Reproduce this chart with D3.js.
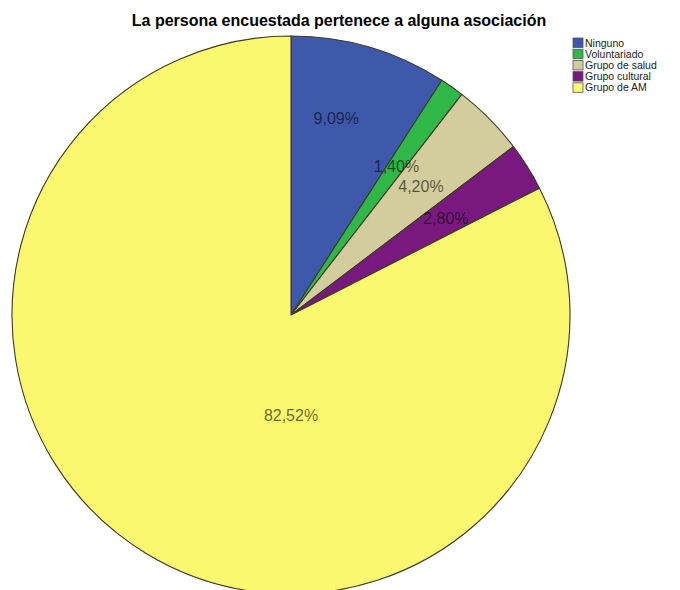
<!DOCTYPE html>
<html>
<head>
<meta charset="utf-8">
<script src="https://cdn.jsdelivr.net/npm/d3@7"></script>
<style>
  html, body { margin: 0; padding: 0; background: #fff; }
  svg { display: block; }
</style>
</head>
<body>
<svg id="chart" width="680" height="590"></svg>
<script>
// Association membership of respondents (percent)
const categories = ["Ninguno", "Voluntariado", "Grupo de salud", "Grupo cultural", "Grupo de AM"];
const values = [9.09, 1.40, 4.20, 2.80, 82.52];
const labels = ["9,09%", "1,40%", "4,20%", "2,80%", "82,52%"];
const colors = ["#3e58ac", "#2fb848", "#d3cc9c", "#79197f", "#fbf76e"];
const title = "La persona encuestada pertenece a alguna asociación";

const svg = d3.select("#chart");
const W = 680, H = 590;
const cx = 291, cy = 315, R = 279;

svg.append("rect").attr("width", W).attr("height", H).attr("fill", "#fff");

const pie = d3.pie().sort(null).value(d => d.v);
const data = categories.map((c, i) => ({ c, v: values[i], label: labels[i], color: colors[i] }));
const arcs = pie(data);
const arc = d3.arc().innerRadius(0).outerRadius(R);

const g = svg.append("g").attr("transform", `translate(${cx},${cy})`);

g.selectAll("path.slice")
  .data(arcs)
  .join("path")
  .attr("class", "slice")
  .attr("d", arc)
  .attr("fill", d => d.data.color)
  .attr("stroke", "#3b3b22")
  .attr("stroke-width", 1.1)
  .attr("stroke-linejoin", "round");

// Label placement: small slices along their mid-angle; the two large
// slices get their label pulled toward the pie's centre line.
function labelPoint(d, i) {
  const mid = (d.startAngle + d.endAngle) / 2;
  let a = mid, r = R * 0.655;
  if (i === 0) { a = mid * 0.79; r = R * 0.725; }
  if (i === 4) { a = Math.PI; r = R * 0.36; }
  return [Math.sin(a) * r, -Math.cos(a) * r];
}

g.selectAll("text.pct")
  .data(arcs)
  .join("text")
  .attr("class", "pct")
  .attr("transform", (d, i) => `translate(${labelPoint(d, i)})`)
  .attr("text-anchor", "middle")
  .attr("dy", "0.36em")
  .attr("font-family", "Liberation Sans, Arial, sans-serif")
  .attr("font-size", 16)
  .attr("fill", "#000")
  .attr("fill-opacity", 0.6)
  .text(d => d.data.label);

// Title
svg.append("text")
  .attr("x", 339)
  .attr("y", 26)
  .attr("text-anchor", "middle")
  .attr("font-family", "Liberation Sans, Arial, sans-serif")
  .attr("font-weight", "bold")
  .attr("font-size", 16)
  .attr("fill", "#000")
  .text(title);

// Legend
const legend = svg.append("g").attr("transform", "translate(573,38)");
const rowH = 11.2;
const rows = legend.selectAll("g.row")
  .data(data)
  .join("g")
  .attr("class", "row")
  .attr("transform", (d, i) => `translate(0,${i * rowH})`);
rows.append("rect")
  .attr("width", 10).attr("height", 9.5)
  .attr("fill", d => d.color)
  .attr("stroke", "#555").attr("stroke-width", 0.8);
rows.append("text")
  .attr("x", 12).attr("y", 8.5)
  .attr("font-family", "Liberation Sans, Arial, sans-serif")
  .attr("font-size", 10.5)
  .attr("fill", "#222")
  .text(d => d.c);
</script>
</body>
</html>
